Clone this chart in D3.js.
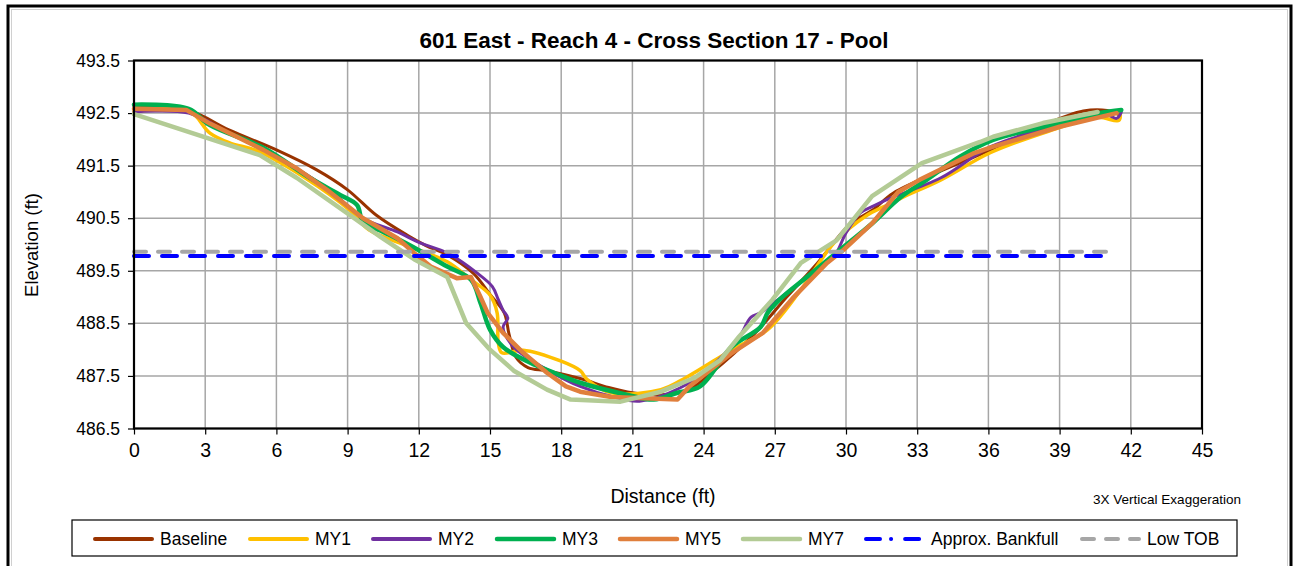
<!DOCTYPE html>
<html><head><meta charset="utf-8">
<script src="https://cdn.jsdelivr.net/npm/d3@7"></script>
<style>
html,body{margin:0;padding:0;background:#fff;}
svg{display:block;font-family:"Liberation Sans",Arial,sans-serif;}
</style></head>
<body><svg id="c" width="1299" height="566"></svg>
<script>
const titleText = "601 East - Reach 4 - Cross Section 17 - Pool";
const xTicks = [0,3,6,9,12,15,18,21,24,27,30,33,36,39,42,45];
const yTicks = [486.5,487.5,488.5,489.5,490.5,491.5,492.5,493.5];

const baseline = [[0,492.62],[2.3,492.55],[4,492.18],[6,491.8],[7.7,491.42],[9,491.04],[10.2,490.56],[11.5,490.18],[12.3,489.98],[13.2,489.8],[14.3,489.45],[15.0,489.05],[15.6,488.7],[15.8,488.3],[16.1,487.85],[16.6,487.66],[17.4,487.6],[18.8,487.45],[20.0,487.28],[21.0,487.18],[22.2,487.14],[23.4,487.25],[24.3,487.55],[26.1,488.28],[27.5,489.0],[28.8,489.65],[30.2,490.4],[31.1,490.65],[32.0,490.98],[34,491.4],[36.1,491.8],[38.2,492.25],[40.0,492.54],[41.0,492.55],[41.5,492.47]];
const my1 = [[0,492.52],[2.3,492.55],[3.2,492.12],[4.05,491.93],[5.2,491.78],[7.2,491.27],[9.1,490.65],[9.9,490.28],[11.5,489.98],[13.2,489.67],[14.2,489.33],[15.0,489.04],[15.3,488.7],[15.35,488.13],[15.5,487.94],[16.4,487.99],[18.0,487.78],[18.8,487.6],[19.1,487.43],[20.1,487.18],[22.2,487.24],[23.3,487.48],[25.2,488.0],[26.7,488.38],[28.1,489.14],[29.5,490.03],[30.9,490.56],[31.6,490.72],[32.4,490.9],[34.0,491.23],[36.1,491.75],[38.5,492.15],[40.6,492.42],[41.5,492.36],[41.55,492.52]];
const my2 = [[0,492.52],[2.3,492.5],[4,492.12],[6,491.67],[8.2,491.05],[9.65,490.5],[11.1,490.24],[12.05,490.03],[13.2,489.84],[14.45,489.46],[15.1,489.2],[15.35,488.95],[15.55,488.75],[15.75,488.6],[15.55,488.43],[16.0,488.05],[17.4,487.62],[18.8,487.3],[20.2,487.1],[21.3,487.02],[23.0,487.27],[24.3,487.67],[25.5,488.24],[26.0,488.62],[26.4,488.7],[27.5,489.08],[28.8,489.52],[29.5,489.77],[30.0,490.22],[30.6,490.6],[31.1,490.72],[31.7,490.85],[34.0,491.27],[36.1,491.86],[38.5,492.22],[40.9,492.48],[41.4,492.4],[41.6,492.52]];
const my3 = [[0,492.66],[2.3,492.58],[3.2,492.27],[5.45,491.84],[7.4,491.27],[8.7,490.94],[9.4,490.75],[9.65,490.43],[10.5,490.24],[11.6,489.99],[13.2,489.58],[14.2,489.33],[14.6,488.89],[15.0,488.38],[15.55,488.05],[16.7,487.75],[17.7,487.56],[18.8,487.37],[20.8,487.14],[21.9,487.05],[22.9,487.18],[23.85,487.3],[25.2,488.06],[26.4,488.43],[26.7,488.7],[27.2,488.95],[28.35,489.38],[29.75,489.9],[31.1,490.4],[32.3,490.9],[33.4,491.23],[34.8,491.67],[36.2,491.99],[39.0,492.31],[40.7,492.5],[41.6,492.56]];
const my5 = [[0,492.58],[2.2,492.56],[3.2,492.3],[5.45,491.8],[6.85,491.45],[8.25,491.0],[9.65,490.5],[11.1,490.12],[11.8,489.84],[12.5,489.58],[13.6,489.36],[14.2,489.38],[14.6,489.0],[14.9,488.7],[15.55,488.32],[16.4,487.94],[17.4,487.56],[18.2,487.3],[18.8,487.2],[20.1,487.1],[22.9,487.05],[23.4,487.3],[25.2,487.94],[26.5,488.32],[27.8,489.0],[29.2,489.65],[29.9,489.9],[31.1,490.4],[32.2,491.0],[33.1,491.23],[35.4,491.74],[36.2,491.86],[39.0,492.24],[41.4,492.5]];
const my7 = [[0,492.48],[5.3,491.7],[6.85,491.27],[9.1,490.56],[10.4,490.14],[11.8,489.72],[13.2,489.38],[14.0,488.5],[15.0,488.0],[16.0,487.6],[17.4,487.24],[18.4,487.05],[20.5,487.01],[22.2,487.2],[23.6,487.46],[24.7,487.8],[25.5,488.25],[26.9,488.95],[28.1,489.65],[29.6,490.08],[31.1,490.92],[33.2,491.55],[35.65,491.95],[36.2,492.05],[38.3,492.31],[40.6,492.52]];
const bankfull = [[0,489.78],[40.9,489.78]];
const lowTOB = [[0,489.86],[41.1,489.86]];

const seriesNames = ["Baseline","MY1","MY2","MY3","MY5","MY7","Approx. Bankfull","Low TOB"];
const seriesData = [baseline,my1,my2,my3,my5,my7,bankfull,lowTOB];
const seriesColors = ["#993300","#FFC000","#7030A0","#00B050","#E07F3C","#B3CB95","#0000FF","#A6A6A6"];
const seriesWidths = [3,3.5,3,4.5,4.5,4.5,4,4];
const seriesCurves = [d3.curveCatmullRom,d3.curveCatmullRom,d3.curveCatmullRom,d3.curveCatmullRom,d3.curveLinear,d3.curveLinear,d3.curveLinear,d3.curveLinear];
const seriesDash = [null,null,null,null,null,null,"15,13","12,12"];

const svg = d3.select("#c");
const L=134,R=1202,T=60.5,B=428.5;
const x = d3.scaleLinear().domain([0,45]).range([L,R]);
const y = d3.scaleLinear().domain([486.5,493.5]).range([B,T]);

// outer border
svg.append("rect").attr("x",8).attr("y",6).attr("width",1283).attr("height",570)
  .attr("fill","#fff").attr("stroke","#000").attr("stroke-width",3);
svg.append("rect").attr("x",11.5).attr("y",9.5).attr("width",1276).attr("height",566)
  .attr("fill","none").attr("stroke","#d0d0d0").attr("stroke-width",1);

// title
svg.append("text").attr("x",654).attr("y",48).attr("text-anchor","middle")
  .attr("font-size",22.5).attr("font-weight","bold").text(titleText);

// grid
svg.append("g").selectAll("line").data(xTicks).join("line")
  .attr("x1",d=>x(d)).attr("x2",d=>x(d)).attr("y1",T).attr("y2",B)
  .attr("stroke","#a6a6a6").attr("stroke-width",1.5);
svg.append("g").selectAll("line").data(yTicks).join("line")
  .attr("x1",L).attr("x2",R).attr("y1",d=>y(d)).attr("y2",d=>y(d))
  .attr("stroke","#a6a6a6").attr("stroke-width",1.5);

// axes
const xAxis = d3.axisBottom(x).tickValues(xTicks).tickSize(6).tickFormat(d3.format("d"));
const gx = svg.append("g").attr("transform",`translate(0,${B})`).call(xAxis);
gx.select(".domain").remove();
gx.selectAll(".tick line").attr("stroke","#000").attr("stroke-width",1.2);
gx.selectAll(".tick text").attr("font-size",19.5).attr("fill","#000").attr("y",15).attr("dy","0.71em")
  .attr("font-family","Liberation Sans, Arial, sans-serif");

const yAxis = d3.axisLeft(y).tickValues(yTicks).tickSize(6).tickFormat(d3.format(".1f"));
const gy = svg.append("g").attr("transform",`translate(${L},0)`).call(yAxis);
gy.select(".domain").remove();
gy.selectAll(".tick line").attr("stroke","#000").attr("stroke-width",1.2);
gy.selectAll(".tick text").attr("font-size",17.5).attr("fill","#000").attr("x",-14)
  .attr("font-family","Liberation Sans, Arial, sans-serif");

// series
const lines = svg.append("g");
const order = [6,7,0,1,2,3,4,5];
order.forEach(i=>{
  const gen = d3.line().x(d=>x(d[0])).y(d=>y(d[1])).curve(seriesCurves[i]);
  const p = lines.append("path").attr("d",gen(seriesData[i])).attr("fill","none")
    .attr("stroke",seriesColors[i]).attr("stroke-width",seriesWidths[i])
    .attr("stroke-linejoin","round").attr("stroke-linecap","round");
  if(seriesDash[i]) p.attr("stroke-dasharray",seriesDash[i]);
});
lines.selectAll("path").filter((d,k)=>k<2).raise();

// plot frame
svg.append("rect").attr("x",L).attr("y",T).attr("width",R-L).attr("height",B-T)
  .attr("fill","none").attr("stroke","#000").attr("stroke-width",2.2);

// axis titles
svg.append("text").attr("x",663).attr("y",503).attr("text-anchor","middle")
  .attr("font-size",19.5).text("Distance (ft)");
svg.append("text").attr("transform","translate(38,245) rotate(-90)").attr("text-anchor","middle")
  .attr("font-size",18.5).text("Elevation (ft)");
svg.append("text").attr("x",1167).attr("y",504).attr("text-anchor","middle")
  .attr("font-size",13.5).text("3X Vertical Exaggeration");

// legend
svg.append("rect").attr("x",72).attr("y",520).attr("width",1165).attr("height",36)
  .attr("fill","#fff").attr("stroke","#000").attr("stroke-width",1.2);
const legX = [95,250,373,497,620,743,866,1082];
const lg = svg.append("g");
seriesNames.forEach((n,i)=>{
  const ly = 539;
  const ln = lg.append("line").attr("x1",legX[i]).attr("x2",legX[i]+57).attr("y1",ly).attr("y2",ly)
    .attr("stroke",seriesColors[i]).attr("stroke-width",seriesWidths[i]<4?4:seriesWidths[i])
    .attr("stroke-linecap","round");
  if(i===6) ln.attr("stroke-dasharray","14,11,0.1,14");
  if(i===7) ln.attr("stroke-dasharray","12,12");
  lg.append("text").attr("x",legX[i]+65).attr("y",ly+6).attr("font-size",17.5).text(n);
});
</script></body></html>
